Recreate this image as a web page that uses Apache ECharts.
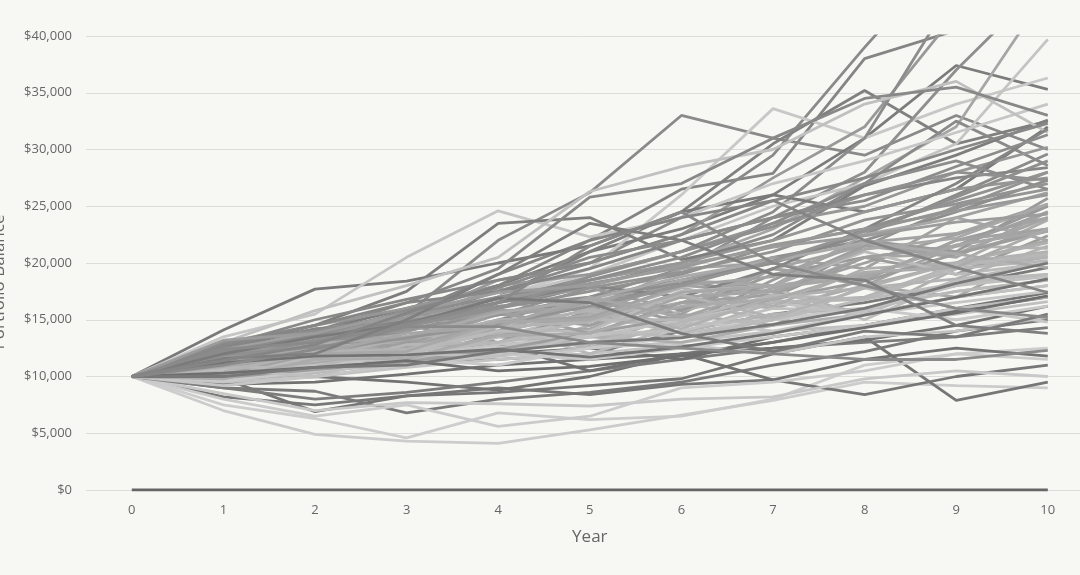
<!DOCTYPE html>
<html>
<head>
<meta charset="utf-8">
<script src="https://cdn.jsdelivr.net/npm/echarts@6/dist/echarts.min.js"></script>
<style>
html,body{margin:0;padding:0;background:#f7f7f3;}
#chart{width:1080px;height:575px;}
</style>
</head>
<body>
<div id="chart"></div>
<script>
// Years on the x axis
const years = ['0','1','2','3','4','5','6','7','8','9','10'];
// Y tick values
const yTicks = [0, 5000, 10000, 15000, 20000, 25000, 30000, 35000, 40000];
// Simulated portfolio balances, in thousands of dollars
const runs = [
  [10,11.5,13.2,15.5,19.0,22.0,26.5,27.9,38.0,40.5,43.0],
  [10,12.0,13.5,15.0,17.5,20.0,24.0,29.5,39.0,48.0,55.0],
  [10,11.0,13.0,15.5,22.0,26.2,33.0,31.0,29.5,33.0,30.0],
  [10,12.5,14.0,16.0,18.0,21.0,23.0,26.0,31.0,37.4,35.3],
  [10,11.0,12.5,14.5,17.0,21.0,24.5,30.5,35.2,30.5,32.5],
  [10,11.5,12.0,14.0,17.0,19.5,26.0,33.6,31.0,34.0,36.3],
  [10,12.0,12.5,15.0,18.5,20.0,22.5,27.5,32.0,42.0,48.0],
  [10,11.0,13.0,15.0,16.5,19.0,21.0,24.5,31.0,44.0,50.0],
  [10,10.5,11.5,13.0,15.0,17.0,19.5,24.0,28.0,37.0,45.0],
  [10,11.5,12.5,14.0,16.0,18.5,20.0,23.0,27.5,32.0,44.0],
  [10,12.0,13.0,14.5,17.0,19.0,22.0,25.0,27.0,30.5,39.7],
  [10,11.0,13.0,14.0,16.0,18.0,20.0,22.5,27.0,32.5,28.6],
  [10,14.1,17.7,18.4,20.0,21.5,24.5,26.0,24.5,26.5,32.0],
  [10,13.5,15.5,20.5,24.6,22.3,24.0,27.0,29.0,31.5,34.0],
  [10,12.5,14.5,17.5,23.5,24.0,20.3,22.0,26.8,29.5,32.6],
  [10,13.0,15.8,18.0,20.5,26.3,28.5,30.0,34.0,36.0,31.5],
  [10,12.0,14.0,16.5,19.5,25.8,27.0,31.0,34.5,35.5,33.0],
  [10,7.0,4.9,4.3,4.1,5.3,6.6,7.9,9.5,9.2,9.0],
  [10,7.5,6.3,4.6,6.8,6.2,6.5,8.0,11.0,12.0,12.5],
  [10,9.8,6.9,8.3,8.6,9.2,9.8,12.0,13.5,7.9,9.5],
  [10,9.0,8.7,6.8,8.0,8.6,9.5,11.0,12.2,14.0,15.0],
  [10,8.2,7.5,8.3,9.0,8.4,9.3,9.7,8.4,10.0,11.0],
  [10,9.5,10.0,9.5,8.8,10.0,12.0,9.7,11.5,12.5,11.8],
  [10,8.5,7.0,7.7,7.6,7.4,8.0,8.2,9.8,10.5,10.0],
  [10,8.0,6.5,7.5,5.6,6.5,9.0,9.5,10.5,12.0,11.5],
  [10,9.0,8.0,8.6,9.5,10.5,11.5,12.5,13.0,13.5,14.3],
  [10,9.3,9.5,10.2,11.0,11.5,12.0,12.5,13.2,14.5,16.2],
  [10,10.5,11.5,12.0,12.0,12.5,11.5,13.5,14.5,15.8,17.0],
  [10,11.0,11.5,12.5,12.8,10.5,12.0,13.0,14.5,16.0,17.4],
  [10,9.5,10.5,11.2,11.5,12.0,14.0,15.5,16.5,18.0,19.6],
  [10,10.5,11.8,11.0,13.5,12.8,15.5,14.5,18.0,17.0,21.0],
  [10,11.8,11.2,13.5,14.0,16.8,15.5,19.5,18.5,22.0,24.0],
  [10,10.0,10.5,11.5,12.0,13.5,14.0,15.5,16.0,17.5,18.5],
  [10,11.5,10.5,12.8,14.5,12.5,15.8,17.5,15.5,19.5,20.5],
  [10,12.0,12.5,13.0,15.5,16.0,18.0,17.5,20.0,22.5,25.0],
  [10,10.8,12.5,11.0,13.5,15.5,13.8,15.0,17.8,16.0,17.0],
  [10,9.8,10.5,11.0,11.8,12.5,13.0,14.0,14.5,15.5,16.6],
  [10,11.2,13.0,14.5,13.0,15.8,18.5,17.0,21.5,25.0,26.5],
  [10,10.5,11.5,13.5,14.5,16.5,18.0,20.5,22.0,24.5,27.3],
  [10,12.5,12.0,14.8,17.0,14.5,16.5,19.5,18.0,21.5,23.0],
  [10,9.5,10.0,10.8,11.5,12.0,12.8,12.0,13.5,14.0,15.2],
  [10,10.2,11.8,12.5,14.5,12.0,14.5,16.8,15.5,18.5,20.0],
  [10,11.8,13.8,12.0,14.5,16.8,14.8,17.0,20.5,19.0,22.4],
  [10,10.5,10.0,11.0,12.5,13.5,13.0,14.5,15.5,17.0,18.0],
  [10,12.2,14.0,15.0,16.0,17.5,19.0,21.5,23.0,25.5,28.0],
  [10,11.0,11.0,13.5,12.0,14.5,16.5,15.0,18.8,21.5,21.3],
  [10,10.0,11.2,12.0,13.5,15.0,16.5,18.0,19.0,20.0,22.0],
  [10,13.0,14.5,16.0,18.0,19.0,21.0,23.5,25.0,28.0,30.2],
  [10,11.5,13.5,14.0,15.8,16.0,14.5,18.5,22.0,21.0,25.7],
  [10,10.8,12.0,11.2,13.5,15.0,14.5,17.8,15.0,18.5,19.0],
  [10,9.2,10.0,11.0,12.0,11.5,12.5,13.5,14.5,16.0,14.8],
  [10,11.0,12.5,13.5,15.5,17.0,18.5,20.0,22.5,26.0,29.6],
  [10,12.0,14.2,15.0,17.8,15.5,18.5,20.5,19.5,24.0,26.2],
  [10,10.5,12.0,13.0,14.0,15.5,17.0,16.0,18.0,20.0,23.8],
  [10,11.3,11.8,13.5,14.0,16.8,16.0,19.5,21.5,20.5,24.5],
  [10,9.7,10.3,11.5,12.5,13.0,14.5,15.0,16.0,17.5,18.5],
  [10,10.6,12.5,12.8,15.5,14.5,17.5,18.0,21.5,20.8,23.0],
  [10,12.8,14.5,16.5,17.5,19.5,22.0,24.0,26.0,27.5,28.4],
  [10,11.0,12.2,11.8,14.5,15.8,13.8,16.5,17.0,19.8,20.6],
  [10,10.3,11.0,11.8,12.8,13.5,15.0,16.5,15.5,17.0,18.0],
  [10,11.7,13.5,13.0,16.5,17.8,15.8,19.0,20.5,21.5,25.0],
  [10,10.0,10.8,12.0,12.5,14.0,15.0,14.0,15.5,16.5,17.5],
  [10,12.3,12.8,14.8,16.5,18.5,20.0,22.0,24.5,26.5,27.5],
  [10,11.0,13.8,15.5,14.0,16.5,18.5,18.0,22.5,24.0,22.0],
  [10,10.4,11.5,12.0,14.0,12.5,14.8,16.5,16.8,19.5,20.2],
  [10,9.6,10.5,11.5,11.0,12.5,13.5,15.0,16.0,15.0,16.2],
  [10,11.5,12.8,13.5,15.8,16.0,19.5,20.0,18.5,22.0,23.0],
  [10,12.6,14.2,14.8,16.5,18.0,17.0,19.5,23.0,27.0,31.8],
  [10,10.7,11.4,12.2,13.0,14.0,13.5,15.0,16.8,18.2,19.0],
  [10,11.1,12.5,13.2,15.0,15.2,17.8,16.2,19.5,20.0,21.8],
  [10,13.0,14.0,15.5,17.0,18.5,20.5,23.5,27.0,29.0,26.5],
  [10,10.9,12.8,11.5,13.8,14.2,17.0,17.5,20.5,20.8,24.0],
  [10,9.9,10.6,11.3,12.4,13.8,15.2,16.8,18.4,20.8,22.8],
  [10,12.1,13.1,14.2,15.4,17.8,19.2,21.0,23.8,25.2,27.0],
  [10,11.4,11.5,13.5,13.8,16.0,14.2,17.0,17.8,20.0,21.0],
  [10,10.1,11.8,12.2,14.0,14.0,17.5,18.0,21.0,19.0,20.0],
  [10,11.6,13.6,15.2,16.8,18.2,19.6,21.6,23.0,24.6,26.0],
  [10,12.4,13.8,13.2,15.8,13.8,16.5,17.2,20.5,21.5,24.5],
  [10,10.6,10.0,12.0,11.8,13.8,14.0,16.0,15.8,18.0,18.8],
  [10,11.9,12.6,14.6,16.2,17.0,18.2,20.0,22.8,25.8,29.0],
  [10,10.2,12.0,12.6,14.8,15.2,18.0,18.8,21.8,22.6,25.2],
  [10,11.3,12.9,13.5,15.6,16.8,18.8,20.2,21.8,20.8,19.6],
  [10,10.8,10.8,12.8,13.0,15.0,15.0,17.2,16.8,19.8,20.8],
  [10,12.7,15.0,16.8,18.5,20.0,22.5,25.5,27.5,30.0,32.3],
  [10,11.2,12.2,13.4,14.6,16.2,18.0,20.2,22.8,24.8,28.0],
  [10,10.4,12.2,12.4,14.4,14.8,17.2,15.2,17.8,18.6,21.5],
  [10,11.6,12.0,13.8,14.4,17.0,15.2,17.8,18.8,21.6,22.8],
  [10,9.8,11.5,11.6,13.6,13.8,16.2,16.8,19.2,19.6,23.0],
  [10,12.2,13.6,15.8,17.8,20.5,22.0,24.0,25.5,28.5,31.3],
  [10,10.9,12.0,12.2,14.8,15.0,17.4,18.0,21.2,22.2,25.2],
  [10,11.4,13.2,14.4,16.0,18.8,21.0,23.2,26.0,28.0,27.3],
  [10,13.2,13.8,15.6,17.4,18.0,19.8,21.4,22.4,23.6,24.3],
  [10,10.3,10.8,11.4,10.5,10.9,11.8,13.0,14.3,15.6,17.1],
  [10,11.2,11.8,11.9,12.4,11.7,12.6,13.8,15.4,17.0,18.6],
  [10,10.0,10.8,11.0,12.2,13.0,13.4,14.6,16.0,18.2,20.0],
  [10,12.0,13.5,14.6,16.9,16.5,13.8,12.2,14.0,13.5,15.5],
  [10,11.0,12.4,14.4,14.4,13.0,12.5,12.0,11.5,11.5,12.3],
  [10,12.4,13.0,14.6,16.5,21.5,24.5,20.0,18.0,16.0,15.2],
  [10,11.6,12.0,15.0,19.0,23.5,22.0,19.0,18.5,14.5,13.8],
  [10,11.4,12.8,15.6,18.0,22.0,24.0,25.5,22.0,19.6,17.4]
];
// Grey shade of each run
const runShades = [
  '#858585','#8a8a8a','#8a8a8a','#7c7c7c','#808080','#c8c8c8','#999999','#8c8c8c','#8f8f8f','#a6a6a6',
  '#c4c4c4','#8a8a8a','#7a7a7a','#c6c6c6','#7e7e7e','#c0c0c0','#888888','#cccccc','#cdcdcd','#767676',
  '#7a7a7a','#777777','#737373','#c8c8c8','#cbcbcb','#7d7d7d','#727272','#6e6e6e','#737373','#7b7b7b',
  '#a8a8a8','#9e9e9e','#b5b5b5','#b0b0b0','#a0a0a0','#bcbcbc','#c0c0c0','#959595','#8e8e8e','#a3a3a3',
  '#c3c3c3','#b8b8b8','#9b9b9b','#adadad','#929292','#b2b2b2','#a9a9a9','#979797','#9a9a9a','#bdbdbd',
  '#c6c6c6','#8b8b8b','#a1a1a1','#acacac','#a4a4a4','#b9b9b9','#9f9f9f','#868686','#b4b4b4','#c2c2c2',
  '#999999','#c5c5c5','#969696','#a7a7a7','#b6b6b6','#c9c9c9','#a2a2a2','#858585','#bababa','#afafaf',
  '#8d8d8d','#a5a5a5','#9d9d9d','#939393','#b1b1b1','#bbbbbb','#989898','#a0a0a0','#bfbfbf','#8f8f8f',
  '#a3a3a3','#aaaaaa','#b7b7b7','#888888','#949494','#b3b3b3','#a6a6a6','#ababab','#8c8c8c','#a8a8a8',
  '#909090','#9c9c9c','#6f6f6f','#737373','#787878','#7a7a7a','#8a8a8a','#8a8a8a','#7f7f7f','#858585'
];
// Baseline at $0
const baseline = [0,0,0,0,0,0,0,0,0,0,0];

const series = runs.map((r, i) => ({
  type: 'line',
  data: r.map(v => v * 1000),
  symbol: 'none',
  silent: true,
  lineStyle: { width: 2.8, color: runShades[i] },
  z: 2
}));
series.push({
  type: 'line',
  data: baseline,
  symbol: 'none',
  silent: true,
  lineStyle: { width: 3, color: '#666666' },
  z: 3
});

const FONT = 'Open Sans';
const chart = echarts.init(document.getElementById('chart'), null, { renderer: 'canvas' });
chart.setOption({
  backgroundColor: '#f7f7f3',
  animation: false,
  textStyle: { fontFamily: FONT },
  grid: { left: 86, top: 36, width: 1007.6, height: 454, containLabel: false, outerBoundsMode: 'none' },
  xAxis: {
    type: 'category',
    data: years,
    boundaryGap: true,
    axisLine: { show: false },
    axisTick: { show: false },
    axisLabel: { color: '#666', fontSize: 13, margin: 14, fontFamily: FONT },
    splitLine: { show: false },
    name: 'Year',
    nameLocation: 'middle',
    nameGap: 39,
    nameTextStyle: { color: '#666', fontSize: 17, fontFamily: FONT }
  },
  yAxis: {
    type: 'value',
    min: yTicks[0],
    max: yTicks[yTicks.length - 1],
    interval: yTicks[1] - yTicks[0],
    axisLine: { show: false },
    axisTick: { show: false },
    axisLabel: {
      color: '#666', fontSize: 13, margin: 14, fontFamily: FONT,
      formatter: v => '$' + v.toLocaleString('en-US')
    },
    splitLine: { lineStyle: { color: '#dcdcd8', width: 1 } },
    name: 'Portfolio Balance',
    nameLocation: 'middle',
    nameGap: 78,
    nameRotate: 90,
    nameTextStyle: { color: '#666', fontSize: 17, fontFamily: FONT, padding: [0, 38, 0, 0] }
  },
  series: series
});
</script>
</body>
</html>
